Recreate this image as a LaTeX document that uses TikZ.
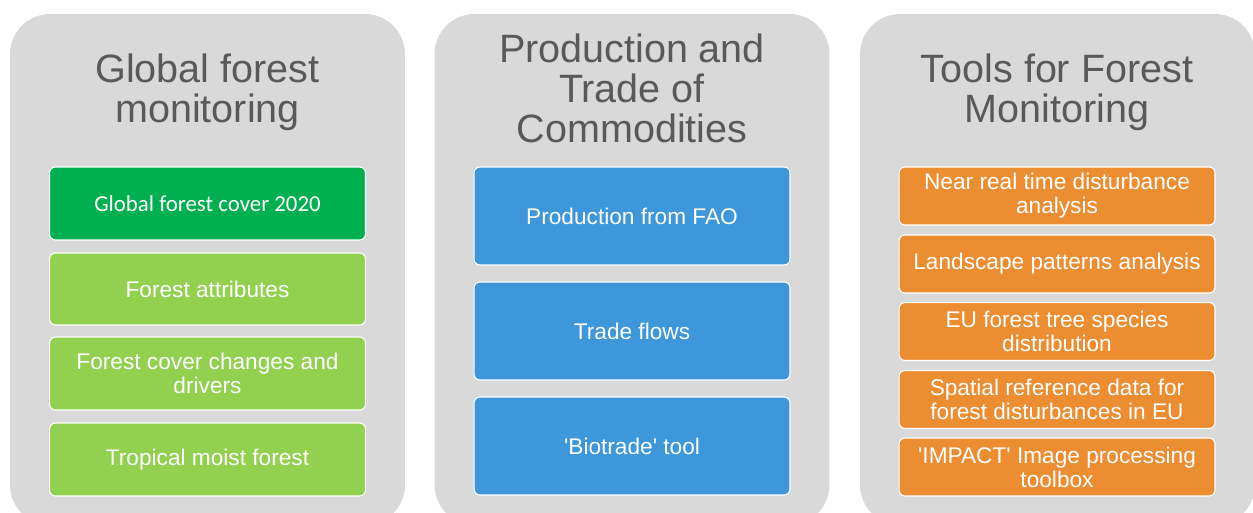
\documentclass[tikz,border=0pt]{standalone}
\usepackage{fontspec}
\setmainfont{Liberation Sans}
\newfontfamily\carlito{Carlito}

\definecolor{panelgrey}{HTML}{D9D9D9}
\definecolor{titlegrey}{HTML}{595959}
\definecolor{darkgreen}{HTML}{00B050}
\definecolor{lightgreen}{HTML}{92D050}
\definecolor{boxblue}{HTML}{3D97DA}
\definecolor{boxorange}{HTML}{ED8D31}

\begin{document}
\begin{tikzpicture}[x=0.02cm,y=-0.02cm,
  panel/.style={fill=panelgrey,rounded corners=0.8cm,minimum width=7.9cm,minimum height=10.22cm,inner sep=0pt},
  title node/.style={text=titlegrey,align=center,font=\fontsize{22.5}{22.7}\selectfont},
  item node/.style={draw=white,line width=0.6pt,rounded corners=0.12cm,text=white,align=center,
    minimum width=6.32cm,inner sep=0pt,font=\fontsize{12.9}{13.6}\selectfont}]

  \useasboundingbox (0,0) rectangle (1253,513);

  % three grey columns
  \node[panel] (global) at (207.5,269.5) {};
  \node[panel] (trade) at (632,269.5) {};
  \node[panel] (tools) at (1057.5,269.5) {};

  \node[title node] (global title) at (207.5,92) {Global forest\\monitoring};
  \node[title node] (trade title) at (632,88) {Production and\\Trade of\\Commodities};
  \node[title node] (tools title) at (1057,92) {Tools for Forest\\Monitoring};

  % global forest monitoring
  \node[item node,fill=darkgreen,minimum height=1.46cm,font=\carlito\fontsize{13}{14}\selectfont] (g1) at (207.5,203.5) {Global forest cover 2020};
  \node[item node,fill=lightgreen,minimum height=1.44cm] (g2) at (207.5,289) {Forest attributes};
  \node[item node,fill=lightgreen,minimum height=1.46cm] (g3) at (207.5,373.5) {Forest cover changes and\\drivers};
  \node[item node,fill=lightgreen,minimum height=1.46cm] (g4) at (207.5,459.5) {Tropical moist forest};

  % production and trade
  \node[item node,fill=boxblue,minimum height=1.96cm] (p1) at (632,216) {Production from FAO};
  \node[item node,fill=boxblue,minimum height=1.96cm] (p2) at (632,331) {Trade flows};
  \node[item node,fill=boxblue,minimum height=1.96cm] (p3) at (632,446) {\textquotesingle Biotrade\textquotesingle{} tool};

  % tools
  \begin{scope}[every node/.append style={fill=boxorange,minimum height=1.16cm,font=\fontsize{12.7}{13}\selectfont}]
    \node[item node] (t1) at (1057,196) {Near real time disturbance\\analysis};
    \node[item node] (t2) at (1057,264) {Landscape patterns analysis};
    \node[item node] (t3) at (1057,331.5) {EU forest tree species\\distribution};
    \node[item node] (t4) at (1057,399.5) {Spatial reference data for\\forest disturbances in EU};
    \node[item node] (t5) at (1057,467) {\textquotesingle IMPACT\textquotesingle{} Image processing\\toolbox};
  \end{scope}
\end{tikzpicture}
\end{document}
